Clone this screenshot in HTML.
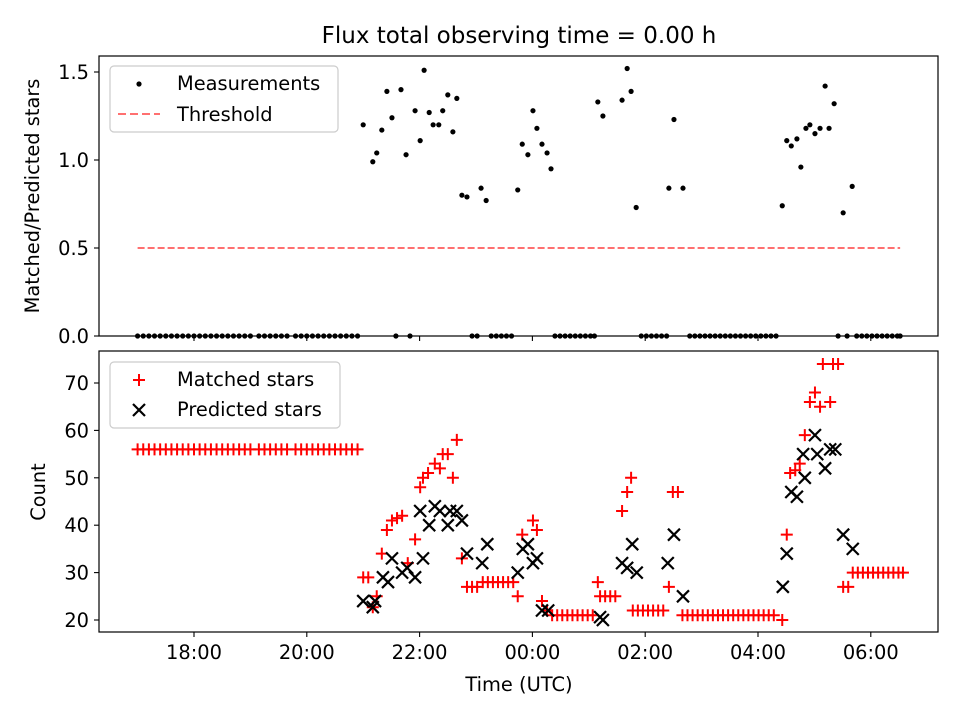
<!DOCTYPE html>
<html><head><meta charset="utf-8"><style>
body{margin:0;background:#fff}
svg text{font-family:"DejaVu Sans","Liberation Sans",sans-serif;fill:#000}
</style></head><body>
<svg id="chart" width="960" height="720" xmlns="http://www.w3.org/2000/svg">
<rect width="960" height="720" fill="#fff"/>
<text x="519" y="43" font-size="23" text-anchor="middle">Flux total observing time = 0.00 h</text>
<g id="top"></g>
<g id="bot"></g>
</svg>
<script>
const xTickTimes=[18,20,22,24,26,28,30];
const xTickLabels=["18:00","20:00","22:00","00:00","02:00","04:00","06:00"];
const yTopTicks=[0,0.5,1.0,1.5];
const yTopLabels=["0.0","0.5","1.0","1.5"];
const yBotTicks=[20,30,40,50,60,70];
const threshold=0.5;
const thresholdRange=[17.0,30.52];
const ratioTimes=[21.00,21.17,21.24,21.33,21.42,21.51,21.67,21.76,21.92,22.01,22.08,22.17,22.24,22.34,22.41,22.50,22.59,22.66,22.75,22.84,23.09,23.18,23.74,23.82,23.92,24.01,24.08,24.17,24.26,24.33,25.16,25.25,25.59,25.68,25.75,25.84,26.42,26.51,26.67,28.43,28.51,28.59,28.69,28.76,28.85,28.92,29.01,29.10,29.19,29.26,29.35,29.51,29.67];
const ratioValues=[1.2,0.99,1.04,1.17,1.39,1.24,1.40,1.03,1.28,1.11,1.51,1.27,1.2,1.2,1.28,1.37,1.16,1.35,0.80,0.79,0.84,0.77,0.83,1.09,1.03,1.28,1.18,1.09,1.04,0.95,1.33,1.25,1.34,1.52,1.39,0.73,0.84,1.23,0.84,0.74,1.11,1.08,1.12,0.96,1.18,1.2,1.15,1.18,1.42,1.18,1.32,0.70,0.85];
const zeroTimes=[17.0,17.1,17.2,17.3,17.4,17.5,17.6,17.7,17.8,17.9,18.0,18.1,18.2,18.3,18.4,18.5,18.6,18.7,18.8,18.9,19.0,19.15,19.25,19.35,19.45,19.55,19.65,19.8,19.9,20.0,20.1,20.2,20.3,20.4,20.5,20.6,20.7,20.8,20.9,21.58,21.83,22.93,23.02,23.27,23.36,23.45,23.54,23.63,24.40,24.49,24.58,24.67,24.76,24.85,24.94,25.03,25.10,25.93,26.02,26.11,26.20,26.29,26.38,26.79,26.88,26.97,27.06,27.15,27.24,27.33,27.42,27.51,27.60,27.69,27.78,27.87,27.96,28.05,28.14,28.23,28.32,29.42,29.58,29.75,29.84,29.93,30.02,30.11,30.20,30.29,30.38,30.47,30.52];
const matchedTimes=[17.0,17.1,17.2,17.3,17.4,17.5,17.6,17.7,17.8,17.9,18.0,18.1,18.2,18.3,18.4,18.5,18.6,18.7,18.8,18.9,19.0,19.15,19.25,19.35,19.45,19.55,19.65,19.8,19.9,20.0,20.1,20.2,20.3,20.4,20.5,20.6,20.7,20.8,20.9,21.00,21.09,21.17,21.24,21.33,21.42,21.51,21.60,21.69,21.79,21.92,22.01,22.06,22.15,22.27,22.36,22.41,22.50,22.59,22.66,22.75,22.84,22.93,23.02,23.12,23.21,23.30,23.39,23.48,23.57,23.66,23.74,23.82,24.01,24.08,24.17,24.26,24.35,24.44,24.53,24.62,24.71,24.80,24.89,24.98,25.07,25.16,25.20,25.29,25.38,25.47,25.59,25.68,25.75,25.78,25.87,25.96,26.05,26.14,26.23,26.32,26.42,26.49,26.58,26.66,26.75,26.84,26.93,27.02,27.11,27.20,27.29,27.38,27.47,27.56,27.65,27.74,27.83,27.92,28.01,28.10,28.19,28.28,28.43,28.51,28.57,28.66,28.74,28.83,28.92,29.01,29.10,29.28,29.15,29.33,29.42,29.51,29.60,29.68,29.77,29.86,29.95,30.04,30.13,30.22,30.31,30.40,30.49,30.57];
const matchedCounts=[56,56,56,56,56,56,56,56,56,56,56,56,56,56,56,56,56,56,56,56,56,56,56,56,56,56,56,56,56,56,56,56,56,56,56,56,56,56,56,29,29,22.7,25,34,39,41,41.5,42,32,37,48,50,51,53,52,55,55,50,58,33,27,27,27,28,28,28,28,28,28,28,25,38,41,39,24,22,21,21,21,21,21,21,21,21,21,28,25,25,25,25,43,47,50,22,22,22,22,22,22,22,27,47,47,21,21,21,21,21,21,21,21,21,21,21,21,21,21,21,21,21,21,21,20,38,51,51.6,53,59,66,68,65,66,74,74,74,27,27,30,30,30,30,30,30,30,30,30,30,30];
const predTimes=[21.00,21.17,21.21,21.35,21.44,21.51,21.69,21.78,21.92,22.06,22.01,22.17,22.27,22.36,22.50,22.54,22.66,22.75,22.84,23.11,23.20,23.74,23.83,23.92,24.01,24.08,24.17,24.28,25.20,25.25,25.59,25.68,25.77,25.85,26.40,26.51,26.67,28.44,28.51,28.59,28.69,28.80,28.83,29.01,29.05,29.19,29.28,29.37,29.51,29.68];
const predCounts=[24,22.7,24,29,28,33,30,31,29,33,43,40,44,43,40,43,43,41,34,32,36,30,35,36,32,33,22,22,20.6,20,32,31,36,30,32,38,25,27,34,47,46,55,50,59,55,52,56,56,38,35];

const NS="http://www.w3.org/2000/svg";
const L=99,R=938,T1=56,B1=336,T2=351,B2=632;
const FS=19.4;
const xs=t=>194+(t-18)*56.4;
const yTop=r=>336-r*176;
const yBot=c=>620-(c-20)*4.74;
function mk(tag,attrs,parent){const e=document.createElementNS(NS,tag);for(const k in attrs)e.setAttribute(k,attrs[k]);parent.appendChild(e);return e;}
const gTop=document.getElementById('top'),gBot=document.getElementById('bot');

let th=mk('line',{x1:xs(thresholdRange[0]),x2:xs(thresholdRange[1]),y1:yTop(threshold),y2:yTop(threshold),stroke:'#ff7070','stroke-width':2,'stroke-dasharray':'7,3'},gTop);


ratioTimes.forEach((t,i)=>{const c=mk('circle',{cx:xs(t),cy:yTop(ratioValues[i]),r:2.6,fill:'#000'},gTop);

});
zeroTimes.forEach(t=>{const c=mk('circle',{cx:xs(t),cy:yTop(0),r:2.6,fill:'#000'},gTop);

});
const H=6;
matchedTimes.forEach((t,i)=>{const x=xs(t),y=yBot(matchedCounts[i]);
const p=mk('path',{d:`M${x-H},${y}H${x+H}M${x},${y-H}V${y+H}`,stroke:'#f00','stroke-width':2,fill:'none'},gBot);

});
predTimes.forEach((t,i)=>{const x=xs(t),y=yBot(predCounts[i]);
const p=mk('path',{d:`M${x-H},${y-H}L${x+H},${y+H}M${x-H},${y+H}L${x+H},${y-H}`,stroke:'#000','stroke-width':2.2,fill:'none'},gBot);

});

function frame(g,T,B){const r=mk('rect',{x:L,y:T,width:R-L,height:B-T,fill:'none',stroke:'#000','stroke-width':1.2},g);


xTickTimes.forEach(t=>{const l=mk('line',{x1:xs(t),x2:xs(t),y1:B,y2:B+5,stroke:'#000','stroke-width':1.1},g);

});}
frame(gTop,T1,B1);frame(gBot,T2,B2);
yTopTicks.forEach((v,i)=>{const y=yTop(v);mk('line',{x1:L-5,x2:L,y1:y,y2:y,stroke:'#000','stroke-width':1.1},gTop);
const tx=mk('text',{x:L-10,y:y+7,'font-size':FS,'text-anchor':'end'},gTop);tx.textContent=yTopLabels[i];

});
yBotTicks.forEach(v=>{const y=yBot(v);mk('line',{x1:L-5,x2:L,y1:y,y2:y,stroke:'#000','stroke-width':1.1},gBot);
const tx=mk('text',{x:L-10,y:y+7,'font-size':FS,'text-anchor':'end'},gBot);tx.textContent=String(v);

});
xTickTimes.forEach((t,i)=>{const tx=mk('text',{x:xs(t),y:B2+27,'font-size':FS,'text-anchor':'middle'},gBot);tx.textContent=xTickLabels[i];

});
let xt=mk('text',{x:519,y:691,'font-size':FS,'text-anchor':'middle'},gBot);xt.textContent='Time (UTC)';


let yt1=mk('text',{x:0,y:0,'font-size':FS,'text-anchor':'middle',transform:'translate(39,196) rotate(-90)'},gTop);yt1.textContent='Matched/Predicted stars';


let yt2=mk('text',{x:0,y:0,'font-size':FS,'text-anchor':'middle',transform:'translate(45,492) rotate(-90)'},gBot);yt2.textContent='Count';



function legend(g,x,y,w,h,name){const r=mk('rect',{x,y,width:w,height:h,rx:4,fill:'#fff','fill-opacity':0.8,stroke:'#ccc','stroke-width':1.2},g);

}
legend(gTop,110,66,228,66,'ratio-legend');
mk('circle',{cx:139,cy:84,r:2.6,fill:'#000'},gTop);
let l1=mk('text',{x:177,y:90,'font-size':FS},gTop);l1.textContent='Measurements';


mk('line',{x1:118,x2:160,y1:114,y2:114,stroke:'#ff7070','stroke-width':2,'stroke-dasharray':'8,4'},gTop);
let l2=mk('text',{x:177,y:121,'font-size':FS},gTop);l2.textContent='Threshold';


legend(gBot,110,362,230,66,'count-legend');
mk('path',{d:'M133,380H145M139,374V386',stroke:'#f00','stroke-width':2},gBot);
let l3=mk('text',{x:177,y:386,'font-size':FS},gBot);l3.textContent='Matched stars';


mk('path',{d:'M133,404L145,416M133,416L145,404',stroke:'#000','stroke-width':2.2},gBot);
let l4=mk('text',{x:177,y:416,'font-size':FS},gBot);l4.textContent='Predicted stars';


</script>
</body></html>
